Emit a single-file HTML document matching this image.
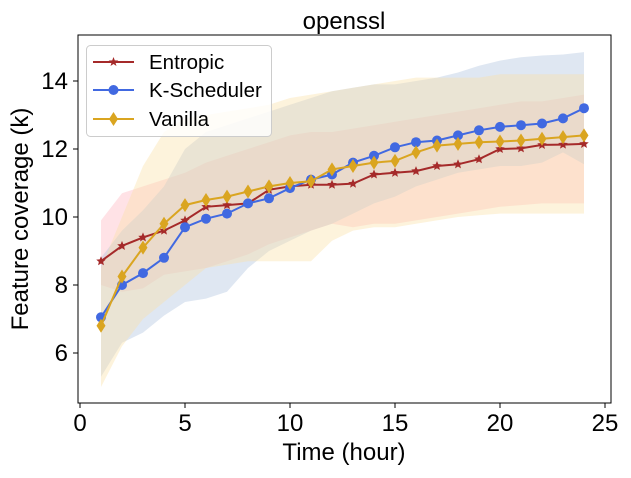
<!DOCTYPE html><html><head><meta charset="utf-8"><style>body{margin:0;background:#fff}svg text{font-family:"Liberation Sans",sans-serif}</style></head><body>
<svg id="c" width="631" height="473"></svg>
<script>
const hours=[1,2,3,4,5,6,7,8,9,10,11,12,13,14,15,16,17,18,19,20,21,22,23,24];
const entropic=[8.7,9.15,9.4,9.6,9.9,10.3,10.35,10.4,10.8,10.9,10.95,10.95,10.98,11.25,11.3,11.35,11.5,11.55,11.7,12.0,12.02,12.12,12.13,12.15];
const entropicHi=[9.9,10.7,10.9,11.1,11.3,11.6,11.8,12.0,12.2,12.4,12.5,12.5,12.6,12.7,12.8,12.9,13.0,13.1,13.2,13.3,13.4,13.4,13.5,13.6];
const entropicLo=[8.0,7.8,7.9,8.3,8.4,8.5,8.7,8.9,9.2,9.4,9.6,9.8,9.7,9.8,9.8,9.9,10.0,10.1,10.2,10.3,10.35,10.4,10.4,10.4];
const ksched=[7.05,8.0,8.35,8.8,9.7,9.95,10.1,10.4,10.55,10.85,11.1,11.25,11.6,11.8,12.05,12.2,12.25,12.4,12.55,12.65,12.7,12.75,12.9,13.2];
const kschedHi=[8.8,9.6,10.2,10.9,12.0,12.5,12.7,12.9,13.1,13.3,13.5,13.7,13.8,13.9,13.9,14.0,14.1,14.25,14.45,14.6,14.7,14.75,14.78,14.85];
const kschedLo=[5.3,6.3,6.6,7.1,7.5,7.6,7.8,8.5,9.0,9.3,9.6,9.8,10.1,10.4,10.6,10.9,11.1,11.3,11.4,11.5,11.5,11.6,11.9,11.55];
const vanilla=[6.8,8.25,9.1,9.8,10.35,10.5,10.6,10.75,10.9,11.0,11.05,11.4,11.5,11.6,11.65,11.9,12.1,12.15,12.2,12.22,12.25,12.3,12.35,12.4];
const vanillaHi=[8.5,10.0,11.5,12.5,12.9,13.0,13.1,13.2,13.3,13.5,13.6,13.7,13.8,13.9,14.0,14.1,14.1,14.1,14.1,14.2,14.2,14.2,14.2,14.2];
const vanillaLo=[5.0,6.2,7.0,7.5,8.0,8.5,8.6,8.7,8.7,8.7,8.7,9.3,9.6,9.7,9.7,9.8,9.9,10.0,10.05,10.1,10.1,10.1,10.1,10.1];
const xTicks=[0,5,10,15,20,25];
const yTicks=[6,8,10,12,14];
const L=78,R=611,T=35,B=403;
const X=v=>80+v*21, Y=v=>353-(v-6)*34;
const svg=document.getElementById('c');const NS='http://www.w3.org/2000/svg';
function mk(t,a,p){const e=document.createElementNS(NS,t);for(const k in a)e.setAttribute(k,a[k]);(p||svg).appendChild(e);return e;}
function band(hi,lo,col,name){const pts=hours.map((h,i)=>X(h)+','+Y(hi[i])).concat(hours.map((h,i)=>X(h)+','+Y(lo[i])).reverse());
const e=mk('polygon',{points:pts.join(' '),fill:col,'fill-opacity':0.4});

}
band(entropicHi,entropicLo,'#ffb6c1','entropic-band');
band(kschedHi,kschedLo,'#b0c4de','k-scheduler-band');
band(vanillaHi,vanillaLo,'#fbe0a8','vanilla-band');
function star(cx,cy,r){let p=[];for(let i=0;i<10;i++){const a=-Math.PI/2+i*Math.PI/5,rr=i%2?r*0.45:r;p.push((cx+rr*Math.cos(a))+','+(cy+rr*Math.sin(a)));}return p.join(' ');}
function marker(g,type,x,y,col){if(type==='c')return mk('circle',{cx:x,cy:y,r:5,fill:col},g);
if(type==='d')return mk('polygon',{points:`${x},${y-7} ${x+4.5},${y} ${x},${y+7} ${x-4.5},${y}`,fill:col},g);
return mk('polygon',{points:star(x,y,5),fill:col},g);}
function series(vals,col,type,name){const g=mk('g',{});


mk('polyline',{points:hours.map((h,i)=>X(h)+','+Y(vals[i])).join(' '),fill:'none',stroke:col,'stroke-width':2},g);
hours.forEach((h,i)=>marker(g,type,X(h),Y(vals[i]),col));}
series(entropic,'#a52a2a','s','entropic-line');
series(ksched,'#4169e1','c','k-scheduler-line');
series(vanilla,'#daa520','d','vanilla-line');
mk('rect',{x:L,y:T,width:R-L,height:B-T,fill:'none',stroke:'#000','stroke-width':1});
xTicks.forEach(v=>{mk('line',{x1:X(v),x2:X(v),y1:B,y2:B+5,stroke:'#000'});const t=mk('text',{x:X(v),y:B+28,'text-anchor':'middle','font-size':24});t.textContent=v;

});
yTicks.forEach(v=>{mk('line',{x1:L-5,x2:L,y1:Y(v),y2:Y(v),stroke:'#000'});const t=mk('text',{x:L-10,y:Y(v)+8,'text-anchor':'end','font-size':24});t.textContent=v;

});
</script>
<svg style="position:absolute;left:0;top:0" width="631" height="473">
<text x="344" y="29" text-anchor="middle" font-size="24">openssl</text>
<text x="344" y="460" text-anchor="middle" font-size="24">Time (hour)</text>
<text transform="translate(28,219) rotate(-90)" text-anchor="middle" font-size="24">Feature coverage (k)</text>
<g>
<rect x="86.5" y="45.5" width="185" height="91" rx="4" fill="#fff" fill-opacity="0.8" stroke="#ccc"/>
<line x1="93" x2="134" y1="62" y2="62" stroke="#a52a2a" stroke-width="2"/><polygon points="113.5,57 114.8,60.4 118.3,60.5 115.5,62.7 116.5,66 113.5,64 110.5,66 111.5,62.7 108.7,60.5 112.2,60.4" fill="#a52a2a"/>
<text x="149" y="69" font-size="20.5">Entropic</text>
<line x1="93" x2="134" y1="90" y2="90" stroke="#4169e1" stroke-width="2"/><circle cx="113.5" cy="90" r="5" fill="#4169e1"/>
<text x="149" y="97" font-size="20.5">K-Scheduler</text>
<line x1="93" x2="134" y1="119" y2="119" stroke="#daa520" stroke-width="2"/><polygon points="113.5,112 118,119 113.5,126 109,119" fill="#daa520"/>
<text x="149" y="126" font-size="20.5">Vanilla</text>
</g></svg>
</body></html>
